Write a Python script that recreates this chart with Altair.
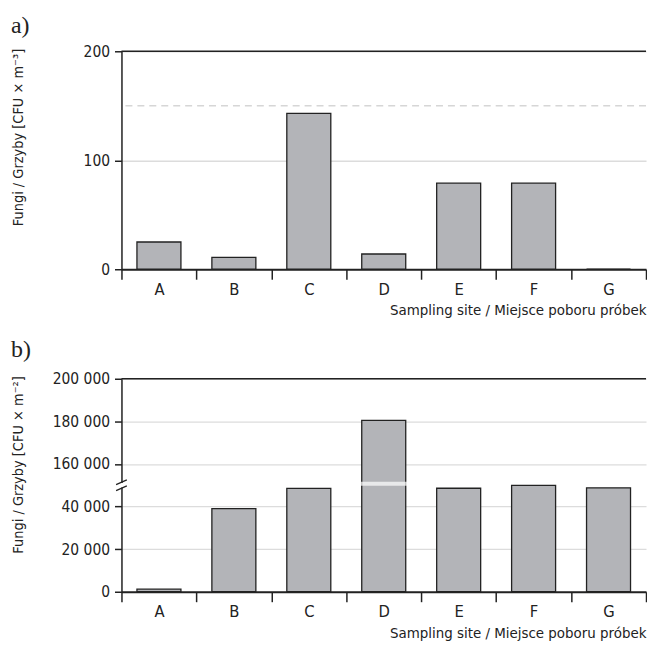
import altair as alt
import pandas as pd

# ---- data ----
sites = ["A", "B", "C", "D", "E", "F", "G"]
fungi_air = [25, 11, 143, 14, 79, 79, 0]                               # CFU x m^-3
fungi_surface = [1200, 39000, 48500, 180500, 48600, 49900, 48800]      # CFU x m^-2
air_limit = [150]
air_top = [200]
air_ticks = [0, 100, 200]
surface_ticks = [0, 20000, 40000, 160000, 180000, 200000]
surface_top = [200000]
break_low = 50000
break_high = 150000

FONT = "'Liberation Sans Narrow', 'DejaVu Sans Condensed', 'Roboto Condensed', Roboto, sans-serif"
SERIF = "Liberation Serif"
FILL = "#b3b4b8"
DARK = "#222222"
GRID = "#dcdcdc"
W = 527
X_TITLE = "Sampling site / Miejsce poboru próbek"
GAP = break_high - break_low
LBL = 15.5
XLBL = 16.5
TTL = 15
YTTL = 14.5


def cut(v):
    return v - GAP if v > break_high else v


def x_enc():
    return alt.X(
        "site:N",
        sort=sites,
        scale=alt.Scale(paddingInner=0, paddingOuter=0),
        axis=alt.Axis(
            title=X_TITLE, titleFont=FONT, titleFontSize=TTL, titleFontWeight="normal",
            titleColor=DARK, titleAnchor="end", titlePadding=5,
            labelFont=FONT, labelFontSize=XLBL, labelColor=DARK, labelAngle=0, labelPadding=2,
            tickBand="extent", tickSize=10, tickColor=DARK, tickWidth=1.5,
            domainColor=DARK, domainWidth=1.8, grid=False,
        ),
    )


def y_axis(title, values, label_expr=None):
    kw = dict(
        values=values, title=title, titleFont=FONT, titleFontSize=YTTL, titleFontWeight="normal",
        titleColor=DARK, titleAngle=270, titleAlign="right", titleBaseline="middle",
        titleX=-103, titleY=-3,
        labelFont=FONT, labelFontSize=LBL, labelColor=DARK, labelPadding=5,
        tickSize=7, tickColor=DARK, tickWidth=1.5,
        domainColor=DARK, domainWidth=1.5,
        grid=True, gridColor=GRID, gridWidth=1.3,
    )
    if label_expr:
        kw["labelExpr"] = label_expr
    return alt.Axis(**kw)


bar_style = dict(width=alt.RelativeBandSize(0.587), fill=FILL, stroke=DARK, strokeWidth=1.3)


def panel_title(t, off):
    return alt.TitleParams(t, anchor="start", frame="bounds", font=SERIF, fontSize=24,
                           fontWeight="normal", color=DARK, offset=off)


# ---- panel a ----
df_a = pd.DataFrame({"site": sites, "v": fungi_air})
bars_a = alt.Chart(df_a).mark_bar(**bar_style).encode(
    x=x_enc(),
    y=alt.Y("v:Q", scale=alt.Scale(domain=[0, 200], nice=False),
            axis=y_axis("Fungi / Grzyby [CFU × m⁻³]", air_ticks)),
)
limit_a = alt.Chart(pd.DataFrame({"v": air_limit})).mark_rule(
    color="#d6d6d6", strokeWidth=1.5, strokeDash=[7, 5]
).encode(y="v:Q")
top_a = alt.Chart(pd.DataFrame({"v": air_top})).mark_rule(color=DARK, strokeWidth=1.5).encode(y="v:Q")

panel_a = alt.layer(limit_a, bars_a, top_a).properties(width=W, height=219, title=panel_title("a)", 6))

# ---- panel b ----
df_b = pd.DataFrame({"site": sites, "v": fungi_surface})
tick_vals_b = [cut(t) for t in surface_ticks]
label_expr_b = (
    f"replace(format(datum.value > {break_low} ? datum.value + {GAP} : datum.value, ','), ',', ' ')"
)
calc = f"datum.v > {break_high} ? datum.v - {GAP} : datum.v"
ysc_b = alt.Scale(domain=[0, cut(surface_top[0])], nice=False)

base_b = alt.Chart(df_b).transform_calculate(vp=calc)
bars_b = base_b.mark_bar(**bar_style).encode(
    x=x_enc(),
    y=alt.Y("vp:Q", scale=ysc_b,
            axis=y_axis("Fungi / Grzyby [CFU × m⁻²]", tick_vals_b, label_expr_b)),
)
gap_b = base_b.transform_filter(f"datum.v > {break_high}").transform_calculate(
    bp=f"{break_low} + 700"
).mark_tick(color="white", thickness=4, size=48).encode(
    x=alt.X("site:N", sort=sites), y=alt.Y("bp:Q", scale=ysc_b)
)
top_b = alt.Chart(pd.DataFrame({"v": surface_top})).transform_calculate(vp=calc).mark_rule(
    color=DARK, strokeWidth=1.5
).encode(y=alt.Y("vp:Q", scale=ysc_b))
brk_df = pd.DataFrame({"v": [break_low]})
brk_white = alt.Chart(brk_df).mark_point(shape="square", filled=True, color="white", size=20, opacity=1).encode(
    x=alt.value(0), y=alt.Y("v:Q", scale=ysc_b)
)
brk_mark = alt.Chart(brk_df).mark_point(
    shape="M-0.9,-0.1L0.9,-0.9M-0.9,0.9L0.9,0.1", filled=False, stroke=DARK, strokeWidth=1.2,
    size=144, opacity=1,
).encode(x=alt.value(0), y=alt.Y("v:Q", scale=ysc_b))

panel_b = alt.layer(bars_b, gap_b, top_b, brk_white, brk_mark).properties(
    width=W, height=214, title=panel_title("b)", 10)
)

chart = alt.vconcat(panel_a, panel_b, spacing=20).properties(
    padding={"left": 3, "top": 5, "right": 0, "bottom": 0}
).configure_view(strokeWidth=0)

chart.save("out.html", embed_options={"renderer": "svg", "actions": False})
